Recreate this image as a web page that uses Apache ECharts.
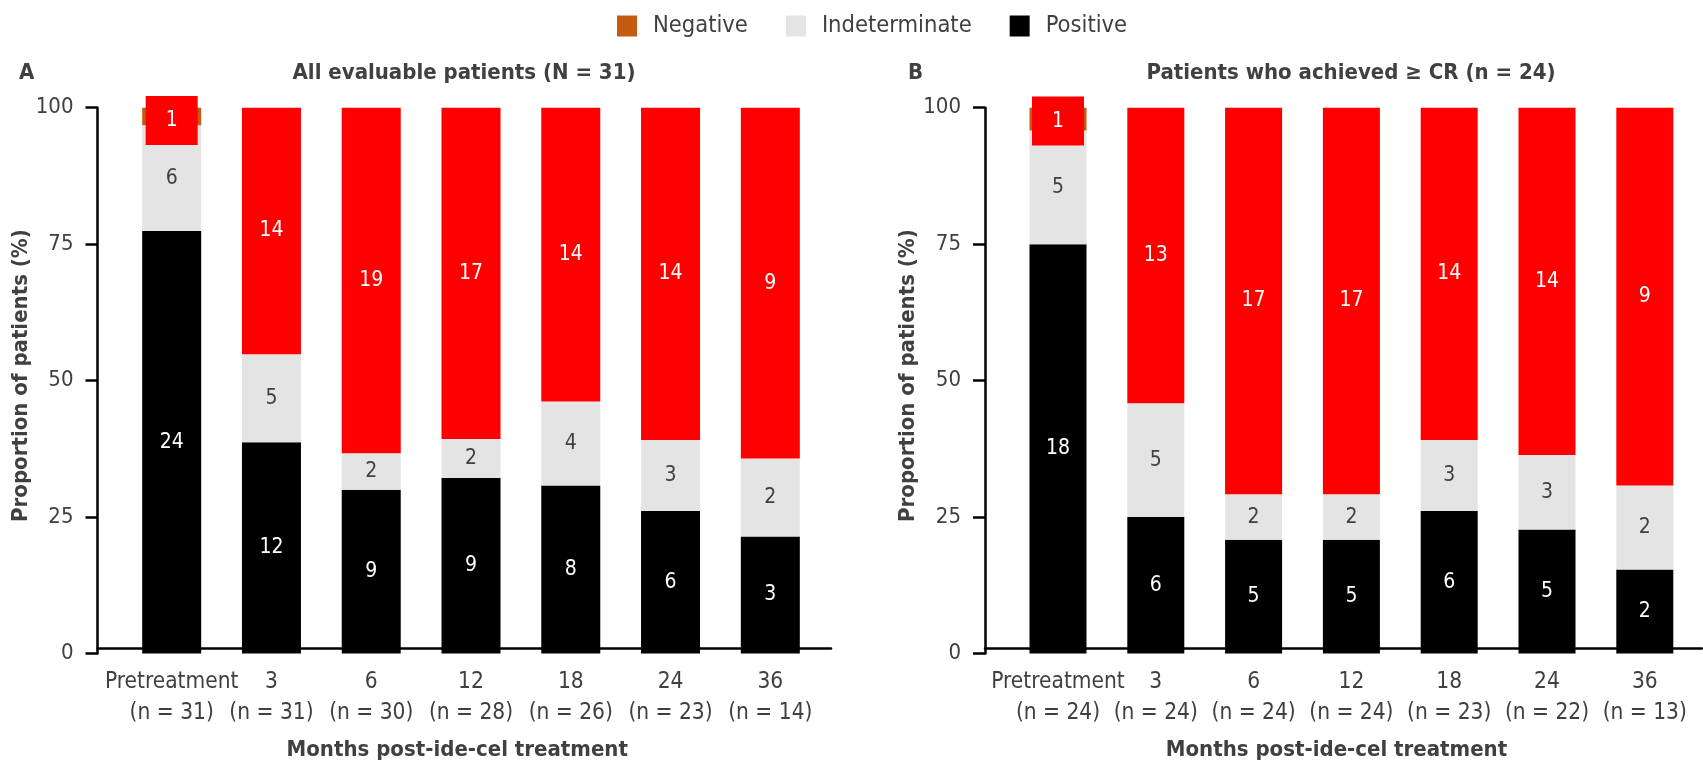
<!DOCTYPE html>
<html>
<head>
<meta charset="utf-8">
<script src="https://cdn.jsdelivr.net/npm/echarts@6/dist/echarts.min.js"></script>
<style>
  html, body { margin: 0; padding: 0; background: #fff; }
  #chart { width: 1703px; height: 766px; }
</style>
</head>
<body>
<div id="chart"></div>
<script>
// Time points and patient counts per category
const categories = ['Pretreatment', '3', '6', '12', '18', '24', '36'];

// Panel A: all evaluable patients
const nA   = [31, 31, 30, 28, 26, 23, 14];
const posA = [24, 12, 9, 9, 8, 6, 3];
const indA = [6, 5, 2, 2, 4, 3, 2];
const negA = [1, 14, 19, 17, 14, 14, 9];

// Panel B: patients who achieved >= CR
const nB   = [24, 24, 24, 24, 23, 22, 13];
const posB = [18, 6, 5, 5, 6, 5, 2];
const indB = [5, 5, 2, 2, 3, 3, 2];
const negB = [1, 13, 17, 17, 14, 14, 9];

const yTicks = [0, 25, 50, 75, 100];

const FONT = "'DejaVu Sans Condensed', 'DejaVu Sans', sans-serif";
const TEXT = '#404040';
const C_NEG = '#C55A11';
const C_NEG_BAR = '#FF0000';
const C_IND = '#E4E4E4';
const C_POS = '#000000';

const chart = echarts.init(document.getElementById('chart'), null, { renderer: 'canvas' });

function pctItems(counts, totals) {
  return counts.map((c, i) => ({ value: c / totals[i] * 100, count: c }));
}

function catLabels(totals) {
  return categories.map((c, i) => c + '\n(n = ' + totals[i] + ')');
}

function makeSeries(gridIdx, xIdx, yIdx, pos, ind, neg, totals, barWidth, boxOffset) {
  const common = {
    type: 'bar',
    stack: 'p' + gridIdx,
    xAxisIndex: xIdx,
    yAxisIndex: yIdx,
    barWidth: barWidth,
    label: {
      show: true,
      position: 'inside',
      fontFamily: FONT,
      fontSize: 21,
      formatter: p => String(p.data.count)
    }
  };
  const negData = pctItems(neg, totals).map((d, i) => {
    if (i === 0) {
      d.itemStyle = { color: C_NEG };
      d.label = {
        backgroundColor: C_NEG_BAR,
        width: 52,
        height: 49,
        lineHeight: 49,
        align: 'center',
        offset: [0, boxOffset]
      };
    } else {
      d.itemStyle = { color: C_NEG_BAR };
    }
    return d;
  });
  return [
    Object.assign({}, common, {
      name: 'Positive',
      data: pctItems(pos, totals),
      itemStyle: { color: C_POS },
      label: Object.assign({}, common.label, { color: '#fff' })
    }),
    Object.assign({}, common, {
      name: 'Indeterminate',
      data: pctItems(ind, totals),
      itemStyle: { color: C_IND },
      label: Object.assign({}, common.label, { color: TEXT })
    }),
    Object.assign({}, common, {
      name: 'Negative',
      data: negData,
      itemStyle: { color: C_NEG },
      label: Object.assign({}, common.label, { color: '#fff' })
    })
  ];
}

const TOP = 107.7, BOTTOM = 766 - 653.5;

function yAxisMain(gridIdx, offset) {
  return {
    type: 'value',
    gridIndex: gridIdx,
    min: 0, max: 100, interval: 25,
    offset: offset,
    name: 'Proportion of patients (%)',
    nameLocation: 'middle',
    nameGap: 62,
    nameTextStyle: { fontFamily: FONT, fontSize: 22, fontWeight: 'bold', color: TEXT, padding: [0, 0, 0, 10] },
    axisLine: { show: true, lineStyle: { color: '#000', width: 2.5 } },
    axisTick: { show: true, length: 12, lineStyle: { color: '#000', width: 2.5 } },
    axisLabel: {
      margin: 24, fontFamily: FONT, fontSize: 22, color: TEXT,
      customValues: yTicks
    },
    splitLine: { show: false }
  };
}

function xAxisMain(gridIdx, totals) {
  return {
    type: 'category',
    gridIndex: gridIdx,
    data: catLabels(totals),
    axisLine: { show: false },
    axisTick: { show: false },
    axisLabel: {
      margin: 13, fontFamily: FONT, fontSize: 22.5, color: TEXT, lineHeight: 31,
      interval: 0
    }
  };
}

// Baseline axis spanning from the y axis to the panel end, carrying the axis title
function xAxisBase(gridIdx) {
  return {
    type: 'value',
    gridIndex: gridIdx,
    min: 0, max: 1,
    name: 'Months post-ide-cel treatment',
    nameLocation: 'middle',
    nameGap: 91,
    nameTextStyle: { fontFamily: FONT, fontSize: 22, fontWeight: 'bold', color: TEXT, padding: [0, 14, 0, 0] },
    axisLine: { show: true, onZero: false, lineStyle: { color: '#000', width: 2.5 } },
    axisTick: { show: false },
    axisLabel: { show: false },
    splitLine: { show: false }
  };
}

function yAxisHidden(gridIdx) {
  return { type: 'value', gridIndex: gridIdx, min: 0, max: 1, show: false };
}

const titleStyle = { fontFamily: FONT, fontSize: 22, fontWeight: 'bold', color: TEXT };

const option = {
  backgroundColor: '#fff',
  animation: false,
  title: [
    { text: 'A', left: 14, top: 57, textStyle: titleStyle },
    { text: 'All evaluable patients (N = 31)', left: 459, top: 57, textAlign: 'center', textStyle: titleStyle },
    { text: 'B', left: 903, top: 57, textStyle: titleStyle },
    { text: 'Patients who achieved ≥ CR (n = 24)', left: 1346, top: 57, textAlign: 'center', textStyle: titleStyle }
  ],
  legend: {
    data: ['Negative', 'Indeterminate', 'Positive'],
    left: 612,
    top: 9,
    icon: 'rect',
    itemWidth: 20,
    itemHeight: 21,
    itemGap: 38,
    textStyle: { fontFamily: FONT, fontSize: 23.5, color: TEXT, padding: [0, 0, 0, 11] }
  },
  grid: [
    { left: 121.8, width: 698.4, top: TOP, bottom: BOTTOM },
    { left: 97.5, width: 831 - 97.5, top: TOP, bottom: BOTTOM },
    { left: 1009.1, width: 684.6, top: TOP, bottom: BOTTOM },
    { left: 985, width: 1702 - 985, top: TOP, bottom: BOTTOM }
  ],
  xAxis: [
    xAxisMain(0, nA),
    xAxisBase(1),
    xAxisMain(2, nB),
    xAxisBase(3)
  ],
  yAxis: [
    yAxisMain(0, 24.3),
    yAxisHidden(1),
    yAxisMain(2, 24.1),
    yAxisHidden(3)
  ],
  series: [].concat(
    makeSeries(0, 0, 0, posA, indA, negA, nA, 59, 4),
    makeSeries(2, 2, 2, posB, indB, negB, nB, 57, 2)
  )
};

chart.setOption(option);
</script>
</body>
</html>
